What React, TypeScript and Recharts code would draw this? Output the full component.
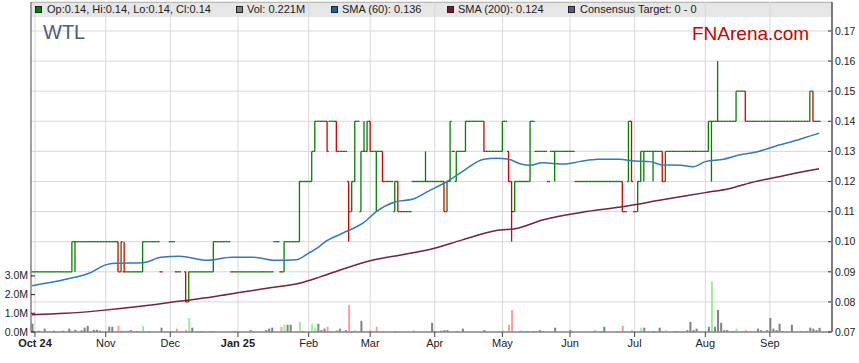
import { ComposedChart, Bar, Line, XAxis, YAxis, CartesianGrid, Cell } from "recharts";

// WTL daily price bars (OHLC ticks), SMA 60/200 and volume, FNArena style.
// x = weekday number counted from Mon 30 Sep 2024, prices in cents.
const FONT = "'Liberation Sans', Arial, sans-serif";
const W = 859;
const H = 363;

const monthTicks = [1, 24, 45, 67, 90, 110, 131, 153, 175, 196, 219, 240];
const monthLabels = ["Oct 24", "Nov", "Dec", "Jan 25", "Feb", "Mar", "Apr", "May", "Jun", "Jul", "Aug", "Sep"];
const priceTicks = [7, 8, 9, 10, 11, 12, 13, 14, 15, 16, 17];
const volTicks = [0, 1, 2, 3];

// closing price per weekday (null = no trade)
const closes: (number | null)[] = [
  9, 9, 9, 9, 9, 9, 9, 9, 9, 9, 9, 9, 9,
  10, 10, 10, 10, 10, 10, 10, 10, 10, 10, 10, 10, 10, 10, 10,
  9, 10, 9, 9, 9, 9, 9, 9,
  10, 10, 10, 10, 10, 10, 9, null, null, 10, 10, 9, 9, null, 8,
  9, 9, 9, 9, 9, 9, 9, 9,
  10, 10, 10, 10, 10, 10,
  9, 9, 9, 9, 9, 9, 9, 9, 9, 9, 9, 9, 9, 9,
  10, 10, 9, 10, 10, 10, 10, 10,
  12, 12, 12, 12, 13, 14, 14, 14, 14, 13, 14, 14, 13, 13, 13, 13,
  11, 12, 14, 14, 13, 13, 14, 13, 13, 13, 13,
  12, 12, 12, 12, 12, 11, 11, 11, 11, 11,
  12, 12, 12, 12, 12, 12, 12, 12, 12, 12, 11, 12, 14,
  13, 13, 13, 13, 14, 14, 14, 14, 14, 14, 13, 13, 13, 13, 13, 13,
  14, 14, 12, 11, 12, 12, 12, 12, 12, 14, 14, 13, 13, 13, 13, 12,
  13, 13, 13, 13, 13, 13, 13, 13,
  12, 12, 12, 12, 12, 12, 12, 12, 12, 12, 12, 12, 12, 12, 12,
  11, 11, 14, 12, 11, 12, 13, 13, 13, 13, 13, 13, 13, 12,
  13, 13, 13, 13, 13, 13, 13, 13, 13, 13, 13, 13, 13, 13,
  14, 14, 14, 14, 14, 14, 14, 14, 14, 15, 15, 15,
  14, 14, 14, 14, 14, 14, 14, 14, 14, 14, 14, 14, 14, 14, 14, 14, 14, 14, 14, 14, 14,
  15, 14, 14, 14,
];

// days whose open/high/low differ from the close
const rangeDays = [13, 14, 28, 29, 30, 36, 50, 51, 59, 82, 87, 91, 92, 96, 99, 103, 104, 105, 107, 108, 109, 110, 112, 114, 118, 119, 128, 134, 135, 136, 138, 141, 147, 153, 155, 156, 157, 162, 170, 192, 194, 195, 197, 198, 199, 202, 205, 206, 220, 221, 223, 229, 232, 253, 254];
const rangeOpens = [9, 10, 10, 9, 9, 9, 9, 8, 9, 9, 10, 12, 13, 14, 14, 12, 11, 12, 11, 13, 13, 14, 13, 13, 11, 12, 12, 12, 11, 12, 12, 13, 14, 13, 13, 12, 11, 12, 13, 12, 12, 14, 11, 12, 13, 13, 13, 12, 13, 14, 14, 14, 15, 14, 15];
const rangeHighs = [10, 10, 10, 10, 10, 10, 9, 9, 10, 10, 12, 13, 14, 14, 14, 12, 12, 14, 13, 14, 14, 14, 13, 13, 12, 12, 13, 12, 12, 14, 13, 14, 14, 14, 13, 12, 12, 14, 13, 12, 14, 14, 12, 13, 13, 13, 13, 13, 14, 14, 16, 15, 15, 15, 15];
const rangeLows = [9, 9, 9, 9, 9, 9, 8, 8, 9, 9, 10, 12, 13, 13, 13, 10, 11, 12, 11, 13, 13, 13, 11, 12, 11, 11, 12, 11, 11, 12, 12, 13, 13, 13, 12, 10, 11, 12, 12, 11, 12, 12, 11, 12, 12, 12, 12, 12, 13, 12, 14, 14, 14, 14, 14];

// volume in millions; move: u = up, d = down, n = unchanged
const volDays = [
  0, 2, 4, 7, 10, 12, 13, 14, 16, 17,
  18, 20, 21, 22, 25, 26, 28, 29, 30, 31,
  32, 34, 36, 38, 42, 45, 47, 50, 51, 52,
  55, 58, 59, 65, 66, 71, 76, 77, 78, 81,
  82, 83, 84, 87, 88, 91, 92, 93, 94, 95,
  96, 99, 100, 102, 103, 104, 105, 107, 108, 109,
  110, 112, 114, 118, 124, 130, 131, 133, 134, 135,
  136, 138, 140, 147, 153, 155, 156, 159, 161, 163,
  164, 165, 166, 170, 175, 183, 185, 186, 190, 192,
  195, 198, 199, 202, 204, 205, 206, 209, 210, 213,
  214, 215, 216, 220, 221, 222, 223, 224, 225, 226,
  228, 229, 231, 232, 236, 237, 239, 240, 241, 242,
  243, 244, 247, 250, 252, 253, 254, 255, 256,
];
const volValues = [
  0.44, 0.07, 0.18, 0.07, 0.07, 0.18, 0.07, 0.12, 0.09, 0.23,
  0.33, 0.12, 0.12, 0.07, 0.28, 0.28, 0.33, 0.07, 0.07, 0.05,
  0.1, 0.05, 0.33, 0.05, 0.23, 0.05, 0.18, 0.12, 0.75, 0.23,
  0.05, 0.05, 0.05, 0.05, 0.05, 0.1, 0.1, 0.18, 0.23, 0.28,
  0.39, 0.39, 0.39, 0.54, 0.05, 0.44, 0.23, 0.44, 0.1, 0.18,
  0.28, 0.1, 0.18, 0.1, 1.44, 0.05, 0.1, 0.6, 0.05, 0.05,
  0.1, 0.28, 0.05, 0.05, 0.1, 0.49, 0.05, 0.07, 0.1, 0.1,
  0.05, 0.05, 0.18, 0.1, 0.1, 0.39, 1.18, 0.1, 0.05, 0.05,
  0.05, 0.1, 0.05, 0.23, 0.1, 0.1, 0.05, 0.28, 0.05, 0.33,
  0.1, 0.23, 0.23, 0.05, 0.23, 0.05, 0.1, 0.05, 0.05, 0.1,
  0.54, 0.1, 0.18, 0.28, 2.7, 0.28, 1.18, 0.49, 0.1, 0.1,
  0.05, 0.18, 0.05, 0.1, 0.18, 0.1, 0.1, 0.75, 0.18, 0.1,
  0.44, 0.05, 0.39, 0.05, 0.05, 0.23, 0.18, 0.1, 0.221,
];
const volMoves = [
  "n", "n", "n", "n", "n", "n", "u", "n", "n", "n",
  "n", "n", "n", "n", "n", "n", "d", "n", "u", "n",
  "n", "n", "u", "n", "n", "u", "d", "d", "u", "n",
  "n", "n", "u", "d", "n", "n", "n", "n", "n", "d",
  "u", "n", "n", "u", "n", "u", "u", "n", "n", "n",
  "d", "d", "n", "n", "d", "n", "u", "n", "u", "u",
  "d", "d", "d", "n", "u", "n", "n", "n", "n", "n",
  "u", "n", "n", "n", "u", "d", "d", "u", "n", "n",
  "d", "n", "n", "n", "n", "d", "n", "n", "n", "d",
  "d", "u", "n", "n", "n", "d", "u", "n", "n", "n",
  "n", "n", "n", "n", "u", "n", "n", "n", "n", "n",
  "n", "u", "d", "d", "n", "n", "n", "n", "n", "n",
  "n", "n", "n", "n", "n", "n", "n", "n", "n",
];

const sma60Days = [0, 11, 19, 24, 27, 36, 42, 48, 57, 65, 72, 79, 86, 90, 93, 95, 101, 108, 112, 118, 124, 129, 135, 140, 147, 151, 155, 159, 162, 166, 173, 178, 184, 191, 196, 201, 205, 211, 215, 219, 225, 230, 236, 242, 249, 254, 256];
const sma60Values = [8.54, 8.75, 8.97, 9.23, 9.28, 9.3, 9.48, 9.52, 9.38, 9.48, 9.48, 9.38, 9.4, 9.62, 9.8, 9.97, 10.28, 10.64, 11.0, 11.32, 11.42, 11.68, 12.0, 12.33, 12.74, 12.77, 12.74, 12.58, 12.54, 12.62, 12.58, 12.66, 12.74, 12.74, 12.68, 12.66, 12.55, 12.54, 12.49, 12.66, 12.74, 12.88, 12.99, 13.18, 13.38, 13.54, 13.6];
const sma200Days = [0, 11, 22, 36, 47, 59, 68, 78, 87, 94, 102, 111, 120, 129, 140, 151, 158, 166, 179, 192, 205, 219, 227, 234, 242, 249, 256];
const sma200Values = [7.57, 7.62, 7.71, 7.86, 8.01, 8.17, 8.32, 8.48, 8.62, 8.84, 9.12, 9.39, 9.56, 9.73, 10.06, 10.37, 10.45, 10.72, 10.98, 11.16, 11.39, 11.63, 11.77, 11.97, 12.14, 12.29, 12.42];

const GREEN = "#008000";
const RED = "#d40000";
const VOL_COL: Record<string, string> = { u: "#98f098", d: "#ff9c9c", n: "#808080" };

type Row = { i: number; o: number; h: number; l: number; c: number; up: boolean; vol?: number; move?: string };

const rows: Row[] = [];
let prevClose: number | null = null;
closes.forEach((c, i) => {
  if (c === null) return;
  const k = rangeDays.indexOf(i);
  const o = k >= 0 ? rangeOpens[k] : c;
  const h = k >= 0 ? rangeHighs[k] : c;
  const l = k >= 0 ? rangeLows[k] : c;
  const up = c > o || (c === o && (prevClose === null || c >= prevClose));
  const v = volDays.indexOf(i);
  rows.push({ i, o, h, l, c, up, vol: v >= 0 ? volValues[v] : undefined, move: v >= 0 ? volMoves[v] : "n" });
  prevClose = c;
});

const sma60Data = sma60Days.map((d, k) => ({ i: d, v: sma60Values[k] }));
const sma200Data = sma200Days.map((d, k) => ({ i: d, v: sma200Values[k] }));

const X_DOMAIN: [number, number] = [-0.3, 260.2];

function OhlcShape(props: any) {
  const { x, y, width, height, payload } = props;
  if (payload == null || x == null) return null;
  const top = Math.min(y, y + height);
  const bot = Math.max(y, y + height);
  const span = payload.h - payload.l;
  const yOf = (v: number) => (span > 0 ? top + ((payload.h - v) / span) * (bot - top) : top);
  const cx = x + width / 2;
  const col = payload.up ? GREEN : RED;
  return (
    <g stroke={col} strokeWidth={1.3} fill="none">
      {span > 0 && <line x1={cx} x2={cx} y1={top} y2={bot} />}
      <line x1={x} x2={cx} y1={yOf(payload.o)} y2={yOf(payload.o)} />
      <line x1={cx} x2={x + width} y1={yOf(payload.c)} y2={yOf(payload.c)} />
    </g>
  );
}

function MonthTick(props: any) {
  const { x, y, payload } = props;
  const label = monthLabels[monthTicks.indexOf(payload.value)] ?? "";
  const bold = label.includes(" ");
  return (
    <text x={x} y={y} dy="0.71em" textAnchor="middle" fontSize={11} fontWeight={bold ? 700 : 400} fill="#222" fontFamily={FONT}>
      {label}
    </text>
  );
}

function PriceTick(props: any) {
  const { x, y, payload } = props;
  return (
    <g>
      <line x1={x - 7} x2={x - 4} y1={y} y2={y} stroke="#333" />
      <text x={x} y={y} dy="0.355em" textAnchor="start" fontSize={10.5} fill="#222" fontFamily={FONT}>
        {(payload.value / 100).toFixed(2)}
      </text>
    </g>
  );
}

function VolTick(props: any) {
  const { x, y, payload } = props;
  return (
    <g>
      <line x1={x + 3} x2={x + 7} y1={y} y2={y} stroke="#222" />
      <text x={x} y={y} dy="0.34em" textAnchor="end" fontSize={10.5} fill="#222" fontFamily={FONT}>
        {payload.value.toFixed(1)}M
      </text>
    </g>
  );
}

const legendItems = [
  { sq: 35, tx: 47, color: "#008000", label: "Op:0.14, Hi:0.14, Lo:0.14, Cl:0.14" },
  { sq: 236, tx: 247, color: "#808080", label: "Vol: 0.221M" },
  { sq: 331, tx: 342, color: "#1a63a8", label: "SMA (60): 0.136" },
  { sq: 447, tx: 458, color: "#801030", label: "SMA (200): 0.124" },
  { sq: 568, tx: 580, color: "#5c5c94", label: "Consensus Target: 0 - 0" },
];

export default function App() {
  return (
    <div style={{ position: "absolute", left: 0, top: 0, width: W, height: H, background: "#fff", fontFamily: FONT, overflow: "hidden" }}>
      <div
        style={{
          position: "absolute",
          left: 31,
          top: 2,
          width: 801,
          height: 15,
          boxSizing: "border-box",
          background: "#e6e6e6",
          borderTop: "1px solid #9a9a9a",
        }}
      />
      <div style={{ position: "absolute", left: 0, top: 0 }}>
        <ComposedChart width={W} height={H} data={rows} margin={{ top: 2, right: 0, bottom: 0, left: 0 }}>
          <CartesianGrid xAxisId="p" yAxisId="p" stroke="#d8d8d8" />
          <XAxis
            xAxisId="p"
            type="number"
            dataKey="i"
            domain={X_DOMAIN}
            allowDataOverflow
            ticks={monthTicks}
            interval={0}
            height={31}
            tick={<MonthTick />}
            tickSize={5}
            tickMargin={2}
            tickLine={{ stroke: "#444" }}
            axisLine={{ stroke: "#888", strokeWidth: 1.5 }}
          />
          <XAxis xAxisId="v" type="number" dataKey="i" domain={X_DOMAIN} allowDataOverflow hide />
          <YAxis
            yAxisId="v"
            orientation="left"
            width={31}
            domain={[0, 17.65]}
            allowDataOverflow
            ticks={volTicks}
            interval={0}
            tickSize={0}
            tickMargin={3}
            tickLine={false}
            tick={<VolTick />}
            axisLine={{ stroke: "#888", strokeWidth: 1.5 }}
          />
          <YAxis
            yAxisId="p"
            orientation="right"
            width={27}
            domain={[7, 17.963]}
            allowDataOverflow
            ticks={priceTicks}
            interval={0}
            tickSize={0}
            tickMargin={3}
            tickLine={false}
            tick={<PriceTick />}
            axisLine={{ stroke: "#333", strokeWidth: 1.2 }}
          />
          <Bar xAxisId="v" yAxisId="v" dataKey="vol" barSize={2} isAnimationActive={false}>
            {rows.map((r) => (
              <Cell key={r.i} fill={VOL_COL[r.move ?? "n"]} />
            ))}
          </Bar>
          <Bar
            xAxisId="p"
            yAxisId="p"
            dataKey={(r: Row) => [r.l, r.h]}
            barSize={3.07}
            shape={<OhlcShape />}
            isAnimationActive={false}
          />
          <Line
            xAxisId="p"
            yAxisId="p"
            data={sma200Data}
            dataKey="v"
            type="monotone"
            stroke="#7d1d40"
            strokeWidth={1.5}
            dot={false}
            isAnimationActive={false}
          />
          <Line
            xAxisId="p"
            yAxisId="p"
            data={sma60Data}
            dataKey="v"
            type="monotone"
            stroke="#2e7cbd"
            strokeWidth={1.5}
            dot={false}
            isAnimationActive={false}
          />
        </ComposedChart>
      </div>
      {legendItems.map((it) => (
        <div key={it.label}>
          <div
            style={{
              position: "absolute",
              left: it.sq,
              top: 6,
              width: 7,
              height: 7,
              boxSizing: "border-box",
              background: it.color,
              border: "1px solid #222",
            }}
          />
          <div style={{ position: "absolute", left: it.tx, top: 3, fontSize: 11, lineHeight: "13px", color: "#222", whiteSpace: "nowrap" }}>
            {it.label}
          </div>
        </div>
      ))}
      <div style={{ position: "absolute", left: 43, top: 22, fontSize: 20, lineHeight: "20px", color: "#4f5b72" }}>WTL</div>
      <div style={{ position: "absolute", left: 692, top: 24, fontSize: 19, lineHeight: "19px", color: "#cc0000" }}>FNArena.com</div>
    </div>
  );
}
